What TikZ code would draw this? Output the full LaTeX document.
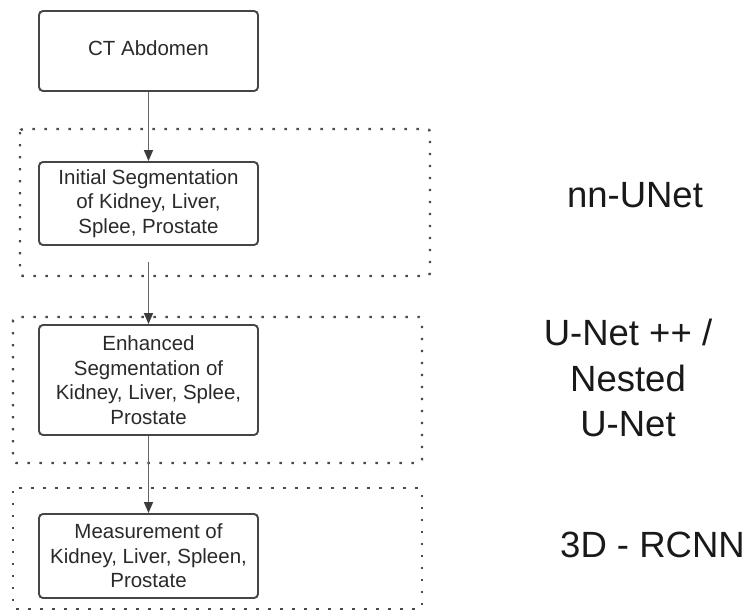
\documentclass[tikz,border=0pt]{standalone}
\usepackage{fontspec}
\setmainfont{Liberation Sans}
\usetikzlibrary{arrows.meta}
\definecolor{boxline}{HTML}{454545}
\definecolor{arrowc}{HTML}{666666}
\definecolor{arrowtip}{HTML}{3C3C3C}
\definecolor{dotc}{HTML}{4A4A4A}
\definecolor{txt}{HTML}{2A2A2A}
\begin{document}
\begin{tikzpicture}[x=1pt,y=-1pt,
  stagebox/.style={draw=boxline,line width=1.9pt,rounded corners=4pt,fill=white,
    minimum width=219pt,inner sep=0pt,align=center,text=txt,
    font=\fontsize{20.5}{24.5}\selectfont},
  groupbox/.style={draw=dotc,line width=2.4pt,dash pattern=on 2.4pt off 9.6pt,rounded corners=3pt},
  flow/.style={draw=arrowc,line width=1.4pt,-{Triangle[length=11pt,width=9pt,color=arrowtip]}},
  method/.style={align=center,text=black!90,font=\fontsize{36.5}{45.5}\selectfont}
]
\useasboundingbox (0,0) rectangle (748,611);

% dotted group frames
\draw[groupbox] (20,129) rectangle (430,276);
\draw[groupbox] (13,317) rectangle (422,463);
\draw[groupbox] (13,488) rectangle (422,609);

% stage boxes
\node[stagebox,minimum height=80pt] (ct) at (148.5,51)
  {\raisebox{2.5pt}[\height][\depth]{CT Abdomen}};
\node[stagebox,minimum height=83pt] (init) at (148.5,203.5)
  {Initial Segmentation\\of Kidney, Liver,\\Splee, Prostate};
\node[stagebox,minimum height=110pt] (enh) at (148.5,380)
  {Enhanced\\Segmentation of\\Kidney, Liver, Splee,\\Prostate};
\node[stagebox,minimum height=84pt] (meas) at (148.5,556)
  {Measurement of\\Kidney, Liver, Spleen,\\Prostate};

% connectors
\coordinate (a2) at (148.5,262);
\draw[flow] (ct.south) -- (init.north);
\draw[flow] (a2) -- (enh.north);
\draw[flow] (enh.south) -- (meas.north);

% method labels
\node[method,anchor=base] (m1) at (635,207) {nn-UNet};
\node[method] (m2) at (628,378) {U-Net ++ /\\Nested\\U-Net};
\node[method,anchor=base] (m3) at (652.5,557) {3D - RCNN};
\end{tikzpicture}
\end{document}
